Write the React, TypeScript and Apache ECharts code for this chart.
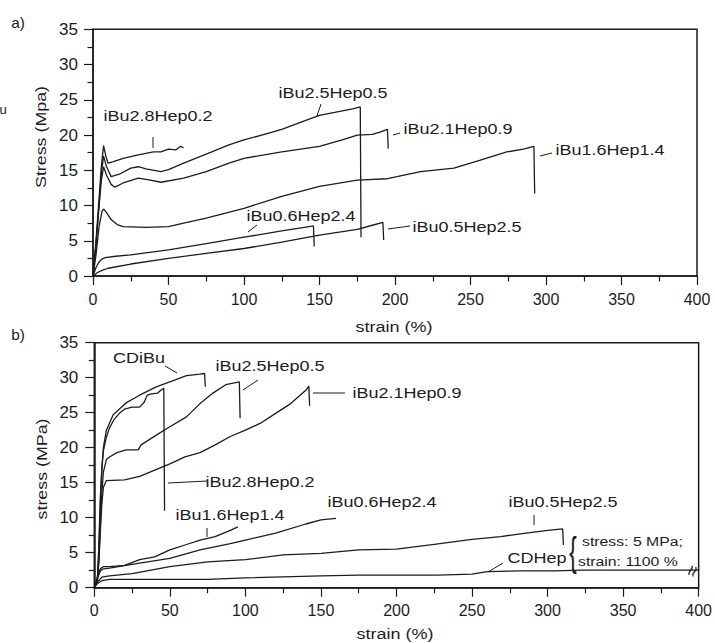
import React, { useEffect, useRef } from "react";
import * as echarts from "echarts";

// ---------- data ----------
const xTicks = [0, 50, 100, 150, 200, 250, 300, 350, 400];
const yTicks = [0, 5, 10, 15, 20, 25, 30, 35];

// panel a)
const aIBu28 = [[0,0],[2,5],[4,11],[5.5,15.5],[7,18.5],[8.5,17],[10,16],[13,16.2],[20,16.7],[30,17.2],[40,17.6],[45,17.6],[50,18],[55,17.9],[58,18.4],[60,18.2]];
const aIBu25 = [[0,0],[2,4.5],[4,10],[5.5,14.5],[7,17],[9,15.5],[12,14.1],[18,14.5],[25,15.3],[30,15.5],[35,15.2],[45,14.8],[50,15.1],[60,16],[75,17.3],[90,18.6],[100,19.3],[117,20.3],[125,20.8],[140,22],[150,22.8],[160,23.2],[172,23.7],[177,24],[177.5,5.5]];
const aIBu21 = [[0,0],[2,4.5],[4,10],[5.5,13.5],[7,15.5],[9,14.3],[12,13],[14.5,12.6],[20,13.2],[30,13.9],[38,13.6],[45,13.3],[60,13.9],[75,14.8],[90,16],[100,16.7],[125,17.6],[150,18.4],[165,19.3],[175,20],[185,20.1],[190,20.4],[195,20.8],[195.5,18.1]];
const aIBu16 = [[0,0],[2,3],[4,7],[6,9.2],[7,9.5],[9,9],[12,8],[16,7.3],[20,7],[35,6.9],[50,7],[60,7.5],[75,8.2],[100,9.6],[125,11.3],[150,12.7],[175,13.6],[195,13.8],[217,14.8],[239,15.3],[256,16.4],[274,17.6],[285,18],[292,18.4],[292.5,11.7]];
const aIBu06 = [[0,0],[2,1.2],[4,2],[6,2.4],[8,2.6],[15,2.8],[25,3],[50,3.7],[75,4.6],[100,5.5],[125,6.4],[140,6.9],[146,7.1],[146.5,4.2]];
const aIBu05 = [[0,0],[3,0.5],[6,0.8],[10,1.1],[25,1.7],[50,2.5],[75,3.2],[100,3.9],[125,4.8],[150,5.8],[175,6.6],[185,7.2],[192,7.6],[192.5,5.1]];

// panel b)
const bCDiBu = [[0,0],[2,1],[3,5],[4,12],[5,17],[6,20],[8,22.5],[12.5,24.7],[21,26.4],[30,27.5],[41,28.7],[50,29.4],[61,30.3],[70,30.5],[73,30.6],[73.5,28.7]];
const bIBu28 = [[0,0],[2,1],[3,6],[4,13],[5,17],[6,19.5],[8,21.5],[10,22.8],[13,24],[17,25],[20,25.5],[25,25.8],[30,25.8],[33,26.5],[35,27.5],[38,27.7],[42,27.8],[44,28.2],[46,28.5],[46.5,11]];
const bIBu25 = [[0,0],[2,1],[3,4],[4,9],[5,13.5],[6,16.5],[8,18.3],[10.3,18.7],[15,19.3],[21,19.7],[29,19.7],[31,20.4],[41,21.8],[50,23],[61,24.4],[70,26.3],[78.5,27.8],[87,29],[96,29.4],[96.5,24.2]];
const bIBu21 = [[0,0],[2,1],[3,3.5],[4,8],[5,12],[6,14.3],[8,15.3],[20,15.4],[30,15.9],[40,16.8],[50,17.7],[60,18.7],[70,19.3],[80,20.4],[90,21.6],[100,22.5],[110,23.5],[120,24.9],[130,26.3],[140,28.2],[142,28.8],[142.5,26]];
const bIBu16 = [[0,0],[2,1.5],[4,2.7],[6,3],[10,3],[20,3.2],[30,4],[40,4.4],[50,5.4],[60,6.1],[70,6.8],[80,7.3],[90,8.2],[95,8.7]];
const bIBu06 = [[0,0],[2,1.3],[4,2.4],[6,2.7],[10,2.8],[30,3.5],[50,4.2],[70,5.4],[90,6.3],[100,6.8],[120,7.8],[140,9.1],[150,9.7],[160,9.9]];
const bIBu05 = [[0,0],[2,0.8],[5,1.5],[10,1.7],[25,2],[50,3],[75,3.7],[100,4],[125,4.7],[150,4.9],[175,5.4],[200,5.5],[225,6.2],[250,6.9],[269,7.3],[282,7.7],[300,8.2],[310,8.4],[310.5,6.1]];
const bCDHep = [[0,0],[2,0.6],[5,1],[10,1.2],[50,1.2],[75,1.2],[100,1.4],[150,1.7],[175,1.8],[227,1.8],[250,1.95],[260,2.3],[282,2.4],[304,2.4],[322,2.5],[400,2.5]];

const seriesA = [aIBu28, aIBu25, aIBu21, aIBu16, aIBu06, aIBu05];
const seriesB = [bCDiBu, bIBu28, bIBu25, bIBu21, bIBu16, bIBu06, bIBu05, bCDHep];
const namesA = ["iBu2.8Hep0.2", "iBu2.5Hep0.5", "iBu2.1Hep0.9", "iBu1.6Hep1.4", "iBu0.6Hep2.4", "iBu0.5Hep2.5"];
const namesB = ["CDiBu", "iBu2.8Hep0.2", "iBu2.5Hep0.5", "iBu2.1Hep0.9", "iBu1.6Hep1.4", "iBu0.6Hep2.4", "iBu0.5Hep2.5", "CDHep"];

// ---------- styles ----------
const FONT = '"Liberation Sans", Arial, Helvetica, sans-serif';
const INK = "#1c1c1c";
const SX = 1.2;

function txt(text: string, x: number, y: number, opts: any = {}) {
  return {
    type: "text",
    x,
    y,
    rotation: opts.rotation || 0,
    scaleX: opts.scaleX ?? SX,
    scaleY: opts.scaleY ?? 1,
    silent: true,
    z: 100,
    style: {
      text,
      fill: INK,
      font: `${opts.size || 15}px ${FONT}`,
      align: opts.align || "center",
      verticalAlign: "middle",
    },
  };
}
function seg(x1: number, y1: number, x2: number, y2: number) {
  return {
    type: "line",
    silent: true,
    z: 100,
    shape: { x1, y1, x2, y2 },
    style: { stroke: INK, lineWidth: 1 },
  };
}

function xAxisCfg(gridIndex: number) {
  return {
    type: "value",
    gridIndex,
    min: xTicks[0],
    max: xTicks[xTicks.length - 1],
    interval: xTicks[1] - xTicks[0],
    axisLine: { show: true, onZero: false, lineStyle: { color: INK, width: 1.5 } },
    axisTick: { show: true, inside: false, length: 9, lineStyle: { color: INK, width: 1.2 } },
    minorTick: { show: true, splitNumber: 2, length: 5.5, lineStyle: { color: INK, width: 1.2 } },
    splitLine: { show: false },
    axisLabel: { color: INK, fontFamily: FONT, fontSize: 16, margin: 15 },
  };
}
function yAxisCfg(gridIndex: number, margin: number) {
  return {
    type: "value",
    gridIndex,
    min: yTicks[0],
    max: yTicks[yTicks.length - 1],
    interval: yTicks[1] - yTicks[0],
    axisLine: { show: true, onZero: false, lineStyle: { color: INK, width: 1.5 } },
    axisTick: { show: true, inside: false, length: 9, lineStyle: { color: INK, width: 1.2 } },
    minorTick: { show: true, splitNumber: 2, length: 5.5, lineStyle: { color: INK, width: 1.2 } },
    splitLine: { show: false },
    axisLabel: { color: INK, fontFamily: FONT, fontSize: 17, margin },
  };
}

export default function App() {
  const ref = useRef<HTMLDivElement>(null);
  useEffect(() => {
    if (!ref.current) return;
    const chart = echarts.init(ref.current, null, { renderer: "svg" });
    const mk = (data: number[][], name: string, idx: number) => ({
      type: "line",
      name,
      data,
      xAxisIndex: idx,
      yAxisIndex: idx,
      showSymbol: false,
      symbol: "none",
      lineStyle: { color: INK, width: 1.3 },
      silent: true,
    });
    const series = [
      ...seriesA.map((d, i) => mk(d, namesA[i], 0)),
      ...seriesB.map((d, i) => mk(d, namesB[i], 1)),
    ];
    const graphic = [
      txt("a)", 18, 23, { size: 14, scaleX: 1.1 }),
      txt("b)", 18, 335, { size: 14, scaleX: 1.1 }),
      txt("u", 3, 109, { size: 13, scaleX: 1 }),
      txt("Stress (Mpa)", 41, 137, { rotation: Math.PI / 2, size: 15.5, scaleX: 1.15 }),
      txt("stress (MPa)", 42, 469, { rotation: Math.PI / 2, size: 15.5, scaleX: 1.15 }),
      txt("strain (%)", 394, 327, { size: 15 }),
      txt("strain (%)", 395, 634, { size: 15 }),
      // panel a labels
      txt(namesA[0], 158, 116),
      seg(153, 137, 153, 148),
      txt(namesA[1], 333, 93),
      seg(317, 116, 321, 104),
      txt(namesA[2], 458, 129),
      seg(393, 135, 400, 133),
      txt(namesA[3], 610, 150),
      seg(540, 156, 552, 153),
      txt(namesA[4], 301, 216),
      seg(248, 232, 257, 225),
      txt(namesA[5], 467, 227),
      seg(388, 229, 410, 226),
      // panel b labels
      txt(namesB[0], 139, 358),
      seg(165, 366, 177, 373),
      txt(namesB[2], 270, 366),
      seg(243, 390, 258, 380),
      txt(namesB[3], 407, 393),
      seg(313, 393, 345, 393),
      txt(namesB[1], 260, 482),
      seg(168, 483, 207, 481),
      txt(namesB[4], 230, 515),
      seg(207, 528, 207, 537),
      txt(namesB[5], 382, 502),
      txt(namesB[6], 563, 502),
      seg(534, 515, 534, 525),
      txt(namesB[7], 537, 558),
      seg(488, 572, 503, 563),
      txt("{", 573, 552, { size: 30, scaleX: 0.75, scaleY: 1.35 }),
      txt("stress: 5 MPa;", 582, 541, { size: 13.5, scaleX: 1.17, align: "left" }),
      txt("strain: 1100 %", 578, 561, { size: 13.5, scaleX: 1.17, align: "left" }),
      txt("≈", 692, 571, { size: 20, scaleX: 1, rotation: (70 * Math.PI) / 180 }),
    ];
    chart.setOption({
      animation: false,
      backgroundColor: "#ffffff",
      textStyle: { fontFamily: FONT },
      grid: [
        { left: 93, top: 29.3, width: 604, height: 246.7, show: true, borderColor: INK, borderWidth: 1.5, backgroundColor: "transparent" },
        { left: 94.3, top: 342.7, width: 606, height: 245, show: true, borderColor: INK, borderWidth: 1.5, backgroundColor: "transparent" },
      ],
      xAxis: [xAxisCfg(0), xAxisCfg(1)],
      yAxis: [yAxisCfg(0, 15), yAxisCfg(1, 16)],
      series,
      graphic,
    });
    return () => chart.dispose();
  }, []);
  return (
    <div
      ref={ref}
      style={{ position: "fixed", left: 0, top: 0, width: 715, height: 643, background: "#fff" }}
    />
  );
}
